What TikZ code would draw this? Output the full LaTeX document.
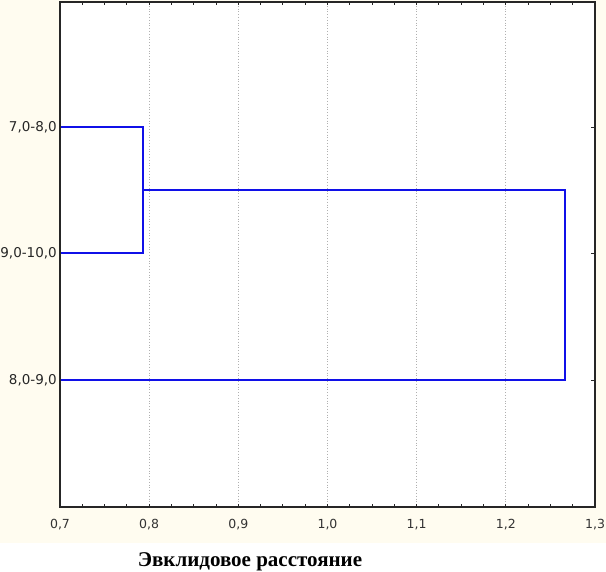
\documentclass[tikz,border=0pt]{standalone}
\usepackage{fontspec}
\setmainfont{Liberation Serif}
\newfontfamily\ticksfont{DejaVu Sans}
\definecolor{cream}{HTML}{FFFCF0}
\definecolor{dendro}{HTML}{1010E8}
\definecolor{gridc}{HTML}{B0B0B0}
\begin{document}
\begin{tikzpicture}[x=1pt,y=-1pt,
  frame/.style={line width=1.6pt,draw=black!85},
  link/.style={line width=1.3pt,draw=dendro},
  gridl/.style={line width=0.8pt,draw=gridc,dotted},
  tickl/.style={line width=0.9pt,draw=black!85},
  xlab/.style={font=\ticksfont\fontsize{12.5}{14}\selectfont,text=black!80,inner sep=0pt},
  ylab/.style={font=\ticksfont\fontsize{13.5}{15}\selectfont,text=black!85,inner sep=0pt,anchor=east},
  title/.style={font=\bfseries\fontsize{21}{24}\selectfont,inner sep=0pt}]
\useasboundingbox (0,0) rectangle (606,572);
\fill[cream] (0,0) rectangle (606,543);
\fill[white] (60,2) rectangle (595,507);
% grid
\foreach \i in {1,...,5}{
  \draw[gridl] ({60+\i*89.17},3) -- ({60+\i*89.17},506);
}
% minor/major ticks
\foreach \i in {1,...,23}{
  \draw[tickl] ({60+\i*22.29},507) -- ({60+\i*22.29},504);
  \draw[tickl] ({60+\i*22.29},2) -- ({60+\i*22.29},5);
}
\foreach \y in {127,253,380}{
  \draw[tickl] (595,\y) -- (591,\y);
}
% frame
\draw[frame] (60,2) rectangle (595,507);
% tick labels
\foreach \l [count=\i from 0] in {{0,7},{0,8},{0,9},{1,0},{1,1},{1,2},{1,3}}{
  \node[xlab] (xl\i) at ({60+\i*89.17},525) {\l};
}
\node[ylab] (l1) at (57,127) {7,0-8,0};
\node[ylab] (l2) at (57,253) {9,0-10,0};
\node[ylab] (l3) at (57,380) {8,0-9,0};
% dendrogram
\coordinate (a0) at (61,127);
\coordinate (a1) at (143,127);
\coordinate (b0) at (61,253);
\coordinate (b1) at (143,253);
\coordinate (m) at (143,190);
\coordinate (m1) at (565,190);
\coordinate (c1) at (565,380);
\coordinate (c0) at (61,380);
\draw[link] (a0) -- (a1) -- (b1) -- (b0);
\draw[link] (m) -- (m1) -- (c1) -- (c0);
% title
\node[title,anchor=base] (t) at (250,566) {Эвклидовое расстояние};
\end{tikzpicture}
\end{document}
